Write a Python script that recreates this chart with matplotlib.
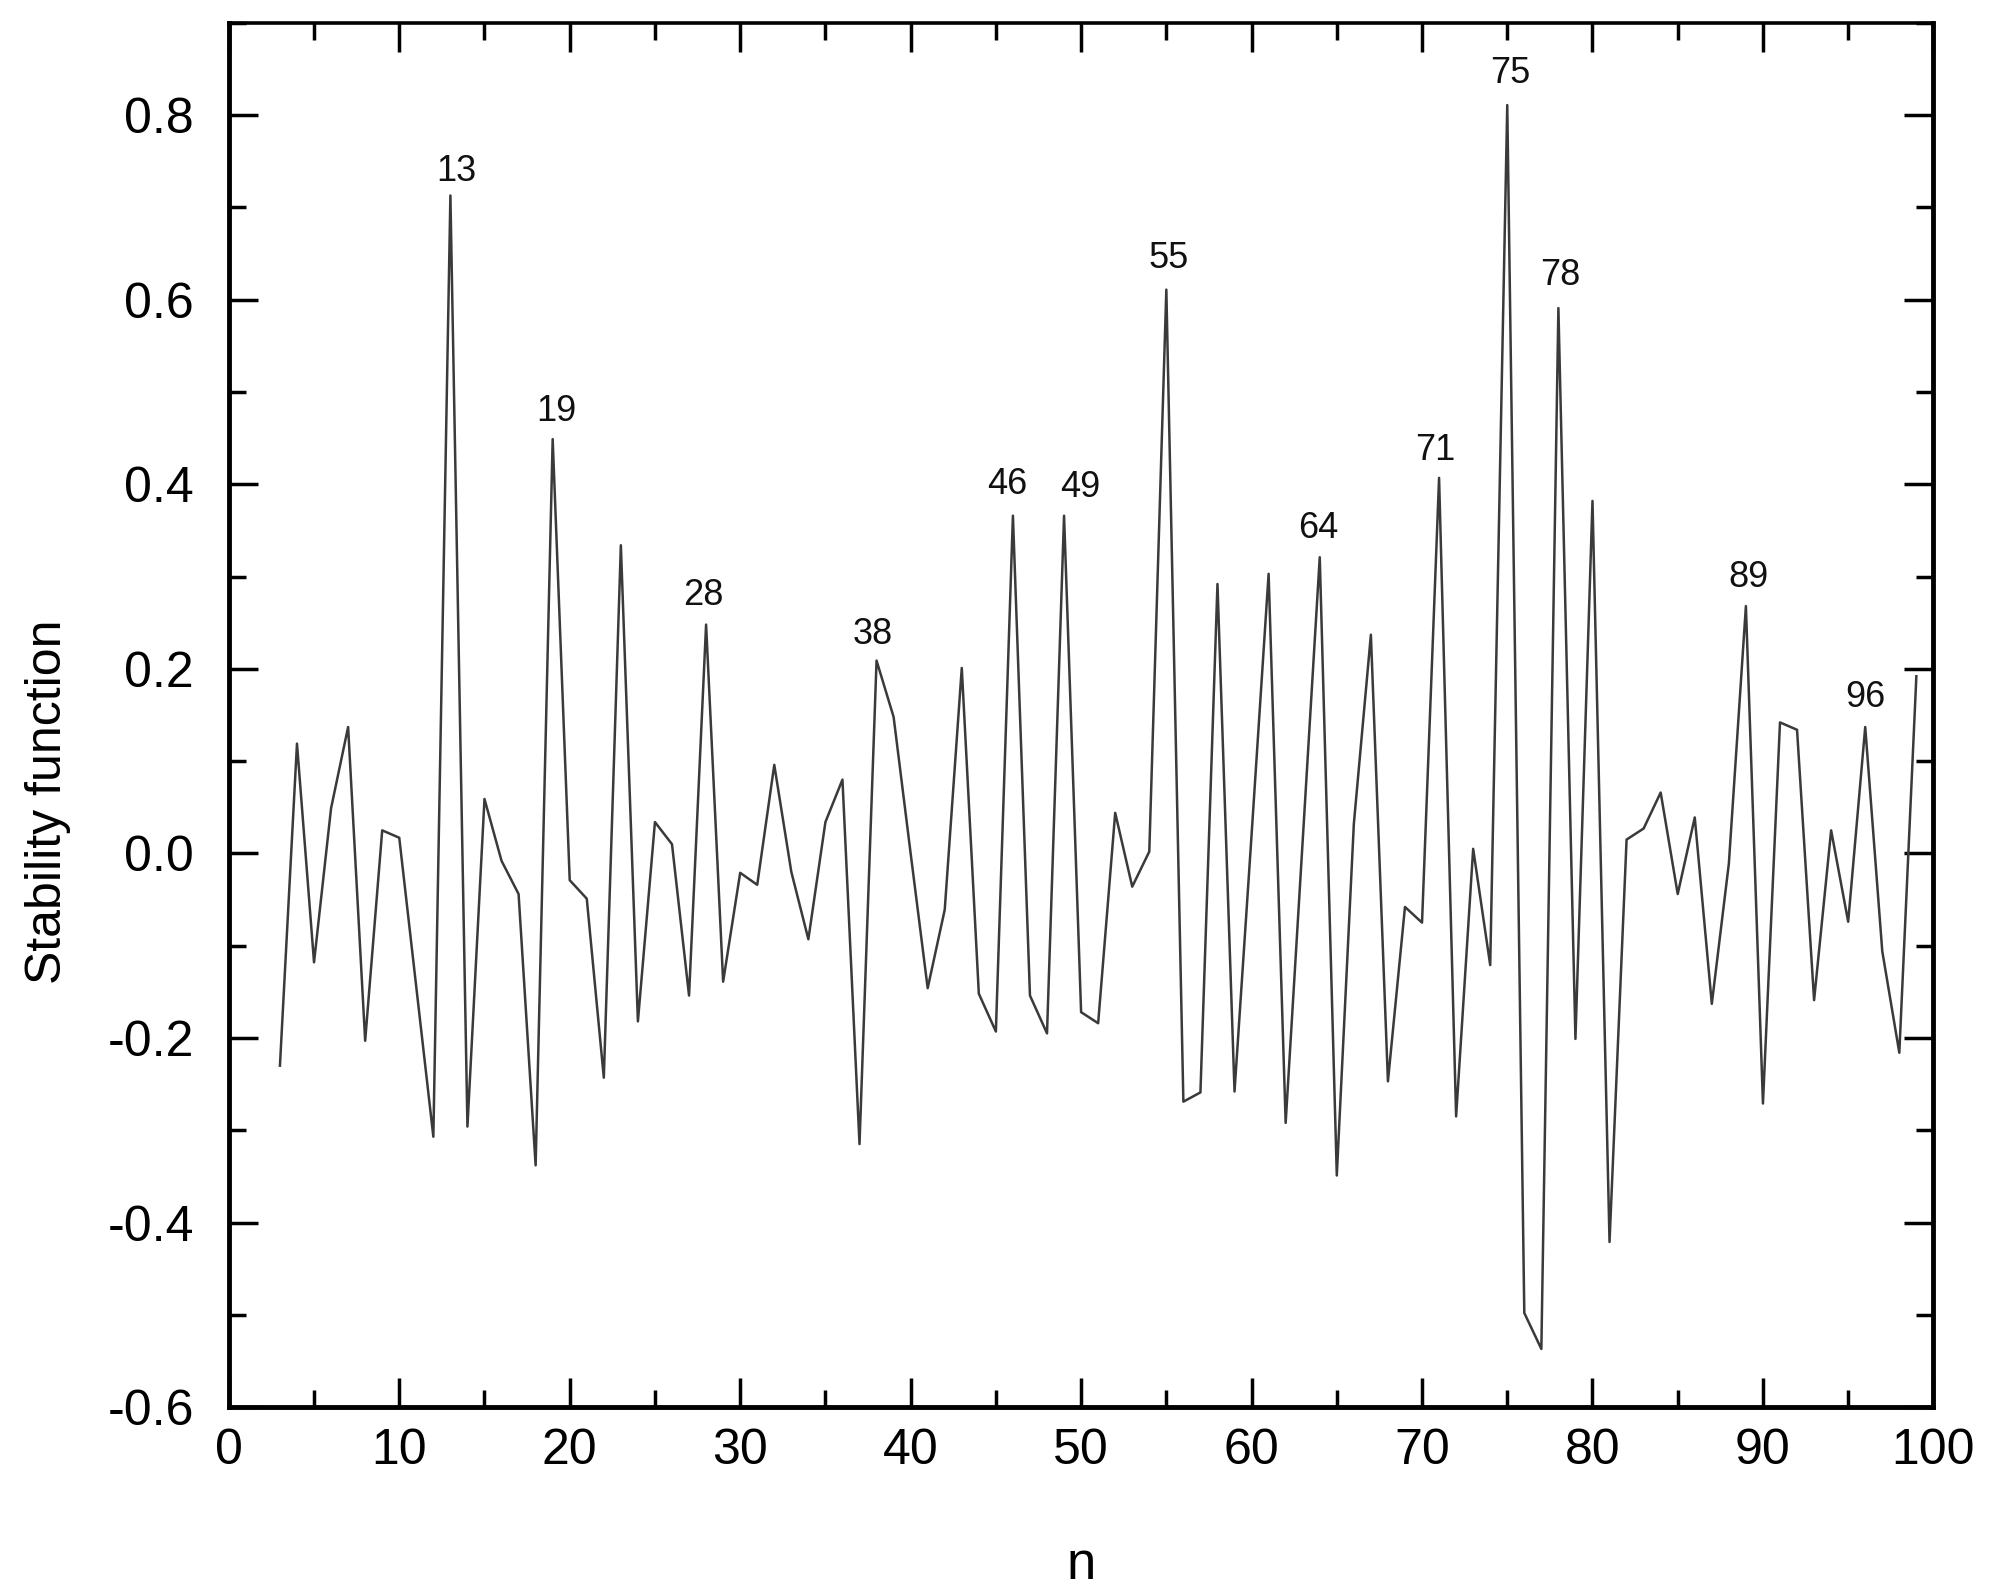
import matplotlib
matplotlib.use("Agg")
import matplotlib.pyplot as plt
from matplotlib.ticker import MultipleLocator

plt.rcParams['font.family'] = ['Liberation Sans', 'DejaVu Sans']

# Data
n_values = list(range(3, 100))
stability = [
    -0.230, 0.119, -0.118, 0.049, 0.137, -0.203, 0.025, 0.017, -0.145, -0.307,   # 3-12
    0.713, -0.296, 0.059, -0.008, -0.044, -0.338, 0.449, -0.029, -0.049, -0.243,  # 13-22
    0.334, -0.182, 0.034, 0.010, -0.154, 0.248, -0.139, -0.021, -0.034, 0.096,    # 23-32
    -0.020, -0.093, 0.034, 0.080, -0.315, 0.209, 0.148, 0.000, -0.146, -0.061,    # 33-42
    0.201, -0.152, -0.193, 0.366, -0.154, -0.195, 0.366, -0.172, -0.184, 0.044,   # 43-52
    -0.036, 0.002, 0.611, -0.269, -0.259, 0.292, -0.258, 0.020, 0.303, -0.292,    # 53-62
    0.014, 0.321, -0.349, 0.032, 0.237, -0.247, -0.058, -0.075, 0.407, -0.285,    # 63-72
    0.005, -0.121, 0.811, -0.498, -0.537, 0.591, -0.201, 0.382, -0.421, 0.015,    # 73-82
    0.027, 0.066, -0.044, 0.039, -0.163, -0.011, 0.268, -0.271, 0.142, 0.134,     # 83-92
    -0.159, 0.025, -0.074, 0.137, -0.106, -0.216, 0.192,                          # 93-99
]
peak_labels = [13, 19, 28, 38, 46, 49, 55, 64, 71, 75, 78, 89, 96]
label_dx_pts = [4, 3, -2, -3, -4, 12, 2, -1, -3, 2, 1, 2, 0]
label_dy_pts = [5, 7, 8, 6, 10, 8, 10, 8, 7, 10, 11, 8, 9]

x_ticks = list(range(0, 101, 10))
y_ticks = [-0.6, -0.4, -0.2, 0.0, 0.2, 0.4, 0.6, 0.8]

fig = plt.figure(figsize=(19.93, 15.93), dpi=100)
ax = fig.add_axes([0.1148, 0.1167, 0.8553, 0.8689])

ax.plot(n_values, stability, color='#3a3a3a', linewidth=1.8)

for n, dx, dy in zip(peak_labels, label_dx_pts, label_dy_pts):
    v = stability[n_values.index(n)]
    ax.annotate(str(n), xy=(n, v), xytext=(dx, dy), textcoords='offset points',
                ha='center', va='bottom', fontsize=26, color='#111111')

ax.set_xlim(0, 100)
ax.set_ylim(-0.6, 0.9)
ax.set_xticks(x_ticks)
ax.set_yticks(y_ticks)
ax.set_yticklabels([f"{t:.1f}" for t in y_ticks])
ax.xaxis.set_minor_locator(MultipleLocator(5))
ax.yaxis.set_minor_locator(MultipleLocator(0.1))

ax.tick_params(which='both', direction='in', top=True, right=True, width=2.5, color='black')
ax.tick_params(which='major', length=21)
ax.tick_params(which='minor', length=12)
ax.tick_params(axis='y', which='major', pad=25, labelsize=36)
ax.tick_params(axis='x', which='major', pad=15, labelsize=36)

for side in ['left', 'bottom', 'right']:
    ax.spines[side].set_linewidth(3.5)
ax.spines['top'].set_linewidth(2.6)

ax.set_xlabel('n', fontsize=38, va='baseline')
ax.xaxis.set_label_coords(0.5, -0.124)
ax.set_ylabel('Stability function', fontsize=36, va='center')
ax.yaxis.set_label_coords(-0.1060, 0.437)

fig.savefig('out.png', dpi=100, facecolor='white')
